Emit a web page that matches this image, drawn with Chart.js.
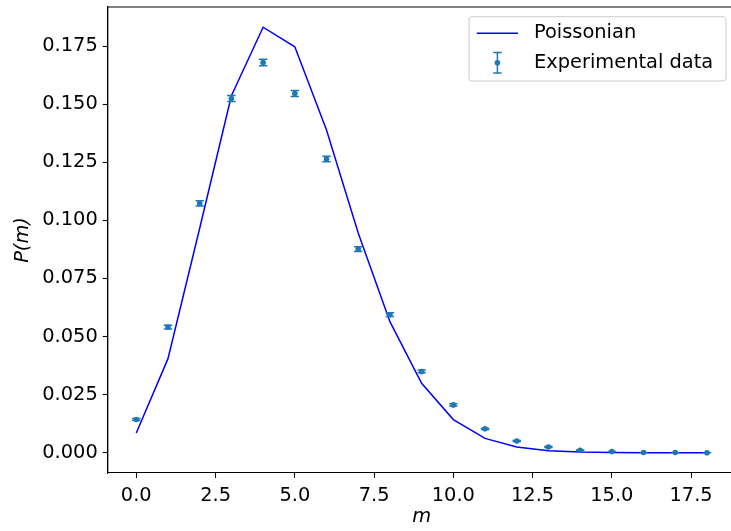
<!DOCTYPE html>
<html>
<head>
<meta charset="utf-8">
<script src="https://cdn.jsdelivr.net/npm/chart.js@4/dist/chart.umd.min.js"></script>
<style>
  html, body { margin: 0; padding: 0; overflow: hidden; background: #fff; }
  #wrap { width: 731px; height: 531px; overflow: hidden; position: relative; }
  canvas { display: block; }
</style>
</head>
<body>
<!-- the axes box runs a few pixels past the right edge of the visible area -->
<div id="wrap"><canvas id="c" width="740" height="531"></canvas></div>
<script>
// Counts m and the two distributions
const m = [0, 1, 2, 3, 4, 5, 6, 7, 8, 9, 10, 11, 12, 13, 14, 15, 16, 17, 18];
const poissonian = [0.0085, 0.0405, 0.0966, 0.1536, 0.1831, 0.1747, 0.1389, 0.0946, 0.0564,
                    0.0299, 0.0143, 0.0062, 0.0025, 0.0009, 0.0003, 0.0001, 0.0000, 0.0000, 0.0000];
const experimental = [0.0143, 0.0541, 0.1073, 0.1524, 0.1679, 0.1546, 0.1264, 0.0876, 0.0594,
                      0.0350, 0.0206, 0.0103, 0.0051, 0.0025, 0.0011, 0.0005, 0.0001, 0.0001, 0.0000];
const experimentalErr = [0.0004, 0.0008, 0.0011, 0.0013, 0.0014, 0.0013, 0.0012, 0.0010, 0.0008,
                         0.0006, 0.0005, 0.0003, 0.0002, 0.0002, 0.0001, 0.0001, 0.0000, 0.0000, 0.0000];
const xTicks = [0, 2.5, 5, 7.5, 10, 12.5, 15, 17.5];
const yTicks = [0, 0.025, 0.05, 0.075, 0.1, 0.125, 0.15, 0.175];

const FONT = "'DejaVu Sans', sans-serif";
const FS = 19.4;
const LINE_BLUE = '#0000ff';
const DATA_BLUE = '#1f77b4';
const CAP = 4.2;

function drawErrorBar(ctx, x, yTop, yBot) {
  ctx.beginPath();
  ctx.moveTo(x, yTop); ctx.lineTo(x, yBot);
  ctx.moveTo(x - CAP, yTop); ctx.lineTo(x + CAP, yTop);
  ctx.moveTo(x - CAP, yBot); ctx.lineTo(x + CAP, yBot);
  ctx.stroke();
}

// vertical error bars with caps for the experimental series
const errorBars = {
  id: 'errorBars',
  afterDatasetsDraw(chart) {
    const { ctx, scales: { x, y } } = chart;
    ctx.save();
    ctx.strokeStyle = DATA_BLUE;
    ctx.lineWidth = 1.5;
    m.forEach((mi, i) => {
      const px = x.getPixelForValue(mi);
      drawErrorBar(ctx, px,
        y.getPixelForValue(experimental[i] + experimentalErr[i]),
        y.getPixelForValue(experimental[i] - experimentalErr[i]));
    });
    ctx.restore();
  }
};

// top spine of the axes (left and bottom come from the scales' borders)
const frame = {
  id: 'frame',
  afterDatasetsDraw(chart) {
    const { ctx, chartArea: a } = chart;
    ctx.save();
    ctx.strokeStyle = '#000';
    ctx.lineWidth = 1.1;
    ctx.beginPath();
    ctx.moveTo(a.left, a.bottom);
    ctx.lineTo(a.left, a.top);
    ctx.lineTo(a.right, a.top);
    ctx.stroke();
    ctx.restore();
  }
};

// legend box in the upper right corner of the axes
const cornerLegend = {
  id: 'cornerLegend',
  afterDraw(chart) {
    const { ctx, chartArea: a } = chart;
    const right = a.right - 9.5;
    const left = right - 257;
    const top = a.top + 9.7;
    const h = 64.3;
    ctx.save();
    ctx.beginPath();
    ctx.roundRect(left, top, right - left, h, 3);
    ctx.fillStyle = 'rgba(255,255,255,0.8)';
    ctx.fill();
    ctx.strokeStyle = '#cccccc';
    ctx.lineWidth = 1;
    ctx.stroke();

    const row1 = top + 16.6, row2 = top + 46;
    const hx0 = left + 7.8, hx1 = left + 49;
    ctx.strokeStyle = LINE_BLUE;
    ctx.lineWidth = 1.5;
    ctx.beginPath(); ctx.moveTo(hx0, row1); ctx.lineTo(hx1, row1); ctx.stroke();

    const cx = (hx0 + hx1) / 2;
    ctx.strokeStyle = DATA_BLUE;
    drawErrorBar(ctx, cx, row2 - 10.3, row2 + 10.3);
    ctx.fillStyle = DATA_BLUE;
    ctx.beginPath(); ctx.arc(cx, row2, 2.8, 0, Math.PI * 2); ctx.fill();

    ctx.fillStyle = '#000';
    ctx.font = FS + 'px ' + FONT;
    ctx.textBaseline = 'middle';
    ctx.textAlign = 'left';
    const ds = chart.data.datasets;
    ctx.fillText(ds[0].label, left + 65, row1);
    ctx.fillText(ds[1].label, left + 65, row2);
    ctx.restore();
  }
};

const tickFont = { family: FONT, size: FS };

new Chart(document.getElementById('c'), {
  type: 'line',
  data: {
    datasets: [
      {
        label: 'Poissonian',
        data: m.map((v, i) => ({ x: v, y: poissonian[i] })),
        borderColor: LINE_BLUE,
        borderWidth: 1.5,
        pointRadius: 0,
        tension: 0,
        fill: false,
        order: 2
      },
      {
        label: 'Experimental data',
        data: m.map((v, i) => ({ x: v, y: experimental[i] })),
        showLine: false,
        pointRadius: 2.8,
        pointBackgroundColor: DATA_BLUE,
        pointBorderColor: DATA_BLUE,
        pointBorderWidth: 0,
        order: 1
      }
    ]
  },
  options: {
    responsive: false,
    devicePixelRatio: 1,
    animation: false,
    layout: { autoPadding: false, padding: { top: 7, right: 4.5, bottom: 0, left: 0 } },
    plugins: { legend: { display: false }, tooltip: { enabled: false } },
    scales: {
      x: {
        type: 'linear',
        min: -0.9,
        max: 18.9,
        afterBuildTicks(s) { s.ticks = xTicks.map(v => ({ value: v })); },
        afterFit(s) { s.height = 58; s.paddingLeft = 0; s.paddingRight = 0; },
        ticks: { font: tickFont, color: '#000', padding: 6.5, maxRotation: 0,
                 callback: v => v.toFixed(1) },
        grid: { display: true, drawOnChartArea: false, drawTicks: true, tickLength: 5,
                color: '#000', tickWidth: 1.1 },
        border: { display: true, color: '#000', width: 1.1 },
        title: { display: true, text: 'm', font: { family: FONT, size: FS, style: 'italic' },
                 color: '#000', padding: { top: 0, bottom: 2 } }
      },
      y: {
        type: 'linear',
        min: -0.0087,
        max: 0.1918,
        afterBuildTicks(s) { s.ticks = yTicks.map(v => ({ value: v })); },
        afterFit(s) { s.width = 107.75; s.paddingTop = 0; s.paddingBottom = 0; },
        ticks: { font: tickFont, color: '#000', padding: 5,
                 callback: v => v.toFixed(3) },
        grid: { display: true, drawOnChartArea: false, drawTicks: true, tickLength: 5,
                color: '#000', tickWidth: 1.1 },
        border: { display: true, color: '#000', width: 1.1 },
        title: { display: true, text: 'P(m)', font: { family: FONT, size: FS, style: 'italic' },
                 color: '#000', padding: { top: 11, bottom: 0 } }
      }
    }
  },
  plugins: [errorBars, frame, cornerLegend]
});
</script>
</body>
</html>
